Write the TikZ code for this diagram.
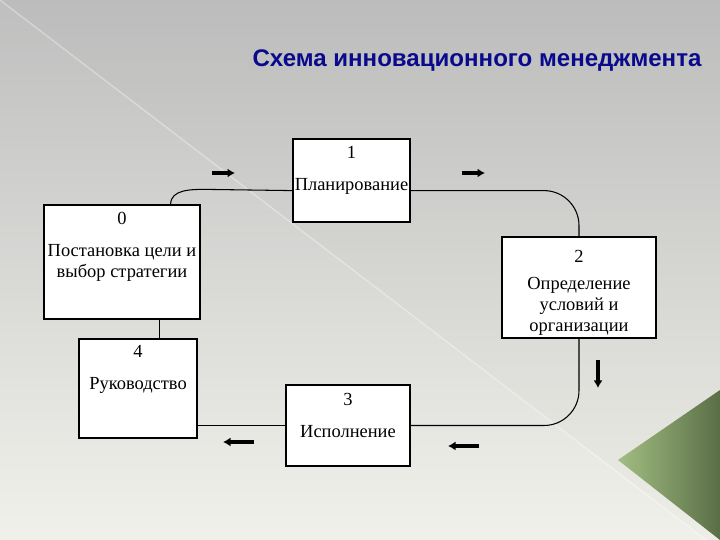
\documentclass[tikz,border=0pt]{standalone}
\usepackage{fontspec}
\setmainfont{Liberation Serif}
\newfontfamily\titlefont{Liberation Sans}
\usetikzlibrary{arrows.meta,calc}
\definecolor{TitleBlue}{HTML}{0A0A8C}
\definecolor{BgTop}{HTML}{BCBCBC}
\definecolor{BgBottom}{HTML}{EEEEE8}
\definecolor{GreenLight}{HTML}{A2BE82}
\definecolor{GreenDark}{HTML}{5A6E46}

\tikzset{
  stage/.style={draw=black,fill=white,line width=0.7pt,inner sep=0pt},
  stagetext/.style={anchor=north,align=center,inner sep=0pt,font=\fontsize{10.5}{12}\selectfont},
  link/.style={draw=black,line width=0.6pt},
  flow/.style={line width=2pt,-{Latex[length=1.5mm,width=1.8mm]}}
}

\begin{document}
\begin{tikzpicture}[x=0.02cm,y=0.02cm]
    % slide background
    \useasboundingbox (0,0) rectangle (720,540);
    \shade[top color=BgTop,bottom color=BgBottom] (0,0) rectangle (720,540);
    \shade[top color=BgTop!96!white,bottom color=BgBottom!85!white] (0,0) -- (0,540) -- (706,0) -- cycle;
    \draw[white,opacity=0.35,line width=0.8pt] (0,540) -- (706,0);
    \shade[left color=GreenLight,right color=GreenDark] (618,80) -- (720,150) -- (720,0) -- cycle;

    \node[font=\titlefont\bfseries\fontsize{13.7}{16}\selectfont,text=TitleBlue] (title) at (477,479)
      {Схема инновационного менеджмента};

    % stages
    \foreach \n/\cx/\cy/\w/\h in {0/122/278/156/114, 1/351.5/359.5/117/83, 2/579/252.5/154/101,
                                  3/348/114.5/124/81, 4/138/151.5/118/99}
      \node[stage,minimum width=\w*0.02cm,minimum height=\h*0.02cm] (b\n) at (\cx,\cy) {};

    \node[stagetext] (t0) at ($(b0.north)+(0,-8)$) {0\\[6pt]Постановка цели и\\выбор стратегии};
    \node[stagetext] (t1) at ($(b1.north)+(0,-8)$) {1\\[6pt]Планирование};
    \node[stagetext] (t2) at ($(b2.north)+(0,-14)$) {2\\[3pt]Определение\\условий и\\организации};
    \node[stagetext] (t3) at ($(b3.north)+(0,-9)$) {3\\[6pt]Исполнение};
    \node[stagetext] (t4) at ($(b4.north)+(0,-7)$) {4\\[6pt]Руководство};

    % links between stages
    \coordinate (p01) at ($(b0.north east)+(-30,0)$);
    \draw[link] (p01) to[out=90,in=180] ++(35,15) -- ($(b1.south west)+(0,32)$);
    \draw[link,rounded corners=0.7cm] ($(b1.south east)+(0,32)$) -| (b2.north);
    \draw[link,rounded corners=0.7cm] (b2.south) |- (b3.east);
    \draw[link] (b3.west) -- (b3.west -| b4.east);
    \coordinate (p04) at ($(b0.south west)+(116,0)$);
    \draw[link] (p04) -- (p04 |- b4.north);

    % direction marks
    \foreach \xa/\ya/\xb/\yb in {212/367/235/367, 462/367/485/367, 598/180/598/152,
                                 479/94/448/94, 254/98/223/98}
      \draw[flow] (\xa,\ya) -- (\xb,\yb);
  \end{tikzpicture}
\end{document}
